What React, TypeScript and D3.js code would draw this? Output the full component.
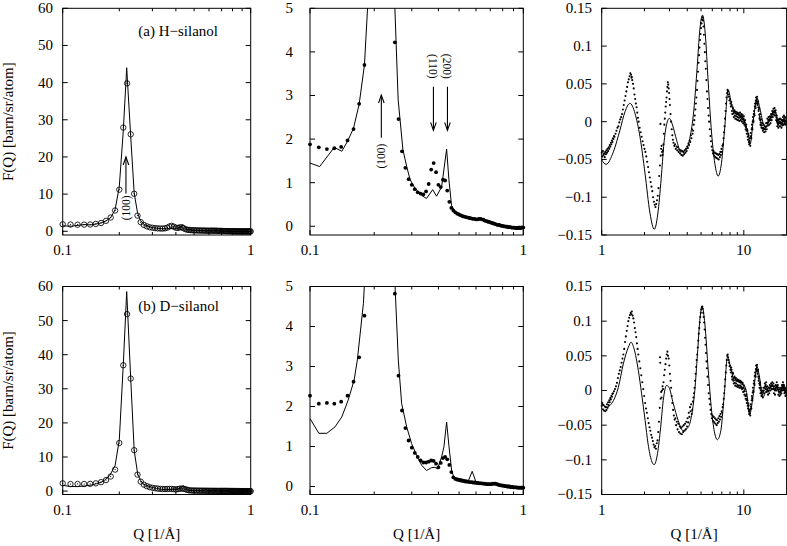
import React from 'react';
import * as d3 from 'd3';

// ---------------- DATA ----------------
const Q_LOW = [
  0.10, 0.11, 0.12, 0.13, 0.14, 0.15, 0.16, 0.17, 0.18, 0.19,
  0.20, 0.21, 0.22, 0.23, 0.24, 0.25, 0.26, 0.27, 0.28, 0.29,
  0.30, 0.31, 0.32, 0.33, 0.34, 0.35, 0.36, 0.37, 0.38, 0.39,
  0.40, 0.41, 0.42, 0.43, 0.44, 0.45, 0.46, 0.47, 0.48, 0.49,
  0.50, 0.51, 0.52, 0.53, 0.54, 0.55, 0.56, 0.57, 0.58, 0.59,
  0.60, 0.61, 0.62, 0.63, 0.64, 0.65, 0.66, 0.67, 0.68, 0.69,
  0.70, 0.71, 0.72, 0.73, 0.74, 0.75, 0.76, 0.77, 0.78, 0.79,
  0.80, 0.81, 0.82, 0.83, 0.84, 0.85, 0.86, 0.87, 0.88, 0.89,
  0.90, 0.91, 0.92, 0.93, 0.94, 0.95, 0.96, 0.97, 0.98, 0.99,
  1.00,
];

const H_LOW_EXP = [
  1.88, 1.81, 1.77, 1.79, 1.82, 1.97, 2.23, 2.81, 3.70, 5.6,
  11.2, 27.9, 39.8, 26.1, 10.1, 4.22, 2.46, 1.72, 1.34, 1.08,
  0.95, 0.85, 0.78, 0.75, 0.73, 0.80, 0.97, 1.30, 1.45, 1.24,
  0.95, 0.90, 1.07, 1.05, 0.82, 0.56, 0.42, 0.36, 0.32, 0.29,
  0.27, 0.25, 0.23, 0.22, 0.21, 0.20, 0.19, 0.18, 0.17, 0.17,
  0.16, 0.16, 0.17, 0.17, 0.16, 0.15, 0.13, 0.12, 0.11, 0.10,
  0.09, 0.08, 0.07, 0.06, 0.05, 0.04, 0.03, 0.03, 0.02, 0.01,
  0.01, 0.00, 0.00, -0.01, -0.01, -0.02, -0.02, -0.02, -0.03, -0.03,
  -0.03, -0.03, -0.04, -0.04, -0.04, -0.03, -0.04, -0.04, -0.03, -0.03,
  -0.03,
];

const D_LOW_EXP = [
  2.27, 2.07, 2.09, 2.07, 2.12, 2.27, 2.62, 3.23, 4.27, 6.3,
  14.1, 36.9, 51.9, 33.0, 12.0, 4.82, 2.77, 1.90, 1.46, 1.15,
  0.97, 0.84, 0.74, 0.65, 0.60, 0.60, 0.62, 0.65, 0.64, 0.57,
  0.48, 0.59, 0.71, 0.74, 0.68, 0.54, 0.36, 0.23, 0.19, 0.17,
  0.16, 0.15, 0.14, 0.13, 0.12, 0.12, 0.11, 0.11, 0.10, 0.10,
  0.09, 0.09, 0.08, 0.08, 0.08, 0.07, 0.07, 0.06, 0.06, 0.06,
  0.06, 0.06, 0.07, 0.07, 0.07, 0.06, 0.05, 0.04, 0.03, 0.03,
  0.02, 0.02, 0.01, 0.01, 0.00, 0.00, 0.00, -0.01, -0.01, -0.01,
  -0.02, -0.02, -0.02, -0.02, -0.03, -0.03, -0.03, -0.03, -0.03, -0.03,
  -0.03,
];

const H_LOW_SIM: [number, number][] = [
  [0.100, 1.45], [0.111, 1.37], [0.130, 1.81], [0.141, 1.72], [0.150, 1.95],
  [0.160, 2.25], [0.170, 2.80], [0.180, 3.70], [0.190, 5.8], [0.200, 12],
  [0.210, 27], [0.219, 44], [0.230, 25.5], [0.240, 10.3], [0.250, 5.0],
  [0.259, 2.9], [0.2726, 1.76], [0.284, 1.37], [0.2947, 1.07], [0.310, 0.88],
  [0.328, 0.74], [0.345, 0.66], [0.352, 0.64], [0.376, 0.84], [0.392, 0.69],
  [0.414, 0.90], [0.437, 1.77], [0.448, 1.07], [0.461, 0.47], [0.48, 0.34],
  [0.50, 0.27], [0.55, 0.20], [0.60, 0.16], [0.65, 0.14], [0.70, 0.09],
  [0.80, 0.01], [0.90, -0.03], [1.00, -0.04],
];

const D_LOW_SIM: [number, number][] = [
  [0.100, 1.70], [0.110, 1.33], [0.120, 1.33], [0.131, 1.49], [0.141, 1.74],
  [0.151, 2.16], [0.161, 2.66], [0.1667, 3.16], [0.178, 4.58], [0.190, 7.5],
  [0.200, 15], [0.210, 37], [0.219, 58.5], [0.230, 33], [0.240, 12],
  [0.2505, 5.0], [0.2594, 3.16], [0.269, 2.07], [0.284, 1.49], [0.2996, 1.07],
  [0.316, 0.78], [0.334, 0.53], [0.352, 0.40], [0.371, 0.47], [0.385, 0.48],
  [0.396, 0.44], [0.414, 0.74], [0.4245, 0.99], [0.437, 1.61], [0.4486, 0.99],
  [0.4613, 0.40], [0.4724, 0.23], [0.5533, 0.15], [0.576, 0.38], [0.5985, 0.13],
  [0.65, 0.09], [0.70, 0.06], [0.75, 0.06], [0.80, 0.03], [0.90, -0.01], [1.00, -0.03],
];

const H_HIGH_SIM: [number, number][] = [
  [1.00, -0.0507], [1.073, -0.0565], [1.208, -0.040], [1.345, -0.011], [1.458, 0.013],
  [1.581, 0.0243], [1.715, 0.011], [1.859, -0.020], [2.016, -0.068], [2.186, -0.121],
  [2.344, -0.1425], [2.50, -0.117], [2.64, -0.068], [2.74, -0.029], [2.86, -0.004],
  [2.99, 0.0044], [3.15, -0.0044], [3.36, -0.024], [3.61, -0.040], [3.89, -0.0375],
  [4.17, -0.022], [4.45, 0.0154], [4.70, 0.073], [4.90, 0.121], [5.12, 0.141],
  [5.35, 0.117], [5.62, 0.051], [5.93, -0.015], [6.25, -0.055], [6.60, -0.072],
  [6.96, -0.055], [7.35, -0.0066], [7.76, 0.042], [8.18, 0.024], [8.64, 0.011],
  [9.36, 0.009], [10.0, 0.002], [10.7, -0.015], [11.1, -0.029], [11.6, -0.002],
  [12.4, 0.031], [12.9, 0.020], [13.7, -0.002], [14.4, -0.007], [15.2, 0.004],
  [16.5, 0.015], [17.4, 0.002], [18.9, -0.004], [20.0, 0.000],
];

const D_HIGH_SIM: [number, number][] = [
  [1.00, -0.019], [1.08, -0.024], [1.21, -0.0144], [1.31, 0.0048], [1.42, 0.0385],
  [1.54, 0.0625], [1.61, 0.0697], [1.69, 0.060], [1.81, 0.029], [1.91, -0.0048],
  [2.02, -0.043], [2.12, -0.077], [2.24, -0.101], [2.34, -0.107], [2.47, -0.091],
  [2.60, -0.053], [2.71, -0.0144], [2.86, 0.0072], [2.97, 0.0048], [3.19, -0.019],
  [3.45, -0.043], [3.74, -0.058], [4.06, -0.053], [4.29, -0.036], [4.52, 0.000],
  [4.72, 0.053], [4.90, 0.101], [5.09, 0.121], [5.32, 0.096], [5.62, 0.029],
  [5.93, -0.029], [6.25, -0.0625], [6.51, -0.071], [6.89, -0.058], [7.26, -0.0096],
  [7.68, 0.048], [8.15, 0.029], [8.6, 0.0144], [9.6, 0.012], [10.4, 0.000],
  [11.0, -0.034], [11.6, -0.0096], [12.4, 0.034], [12.9, 0.019], [13.6, -0.010],
  [14.4, 0.000], [15.2, 0.005], [16.0, 0.002], [17.0, 0.004], [18.0, -0.002],
  [18.9, 0.0096], [20.0, -0.004],
];

const H_HIGH_EXP: [number, number][] = [
  [1.00, -0.041], [1.01, -0.046], [1.02, -0.039], [1.03, -0.044], [1.04, -0.042],
  [1.05, -0.047], [1.06, -0.040], [1.07, -0.043], [1.08, -0.038], [1.09, -0.041],
  [1.10, -0.036], [1.11, -0.039], [1.12, -0.034], [1.13, -0.036], [1.14, -0.031],
  [1.15, -0.033], [1.16, -0.028], [1.17, -0.030], [1.18, -0.025], [1.19, -0.027],
  [1.20, -0.022], [1.21, -0.023], [1.22, -0.019], [1.23, -0.020], [1.25, -0.016],
  [1.27, -0.012], [1.29, -0.008], [1.31, -0.006], [1.33, -0.001], [1.35, 0.003],
  [1.37, 0.006], [1.39, 0.010], [1.41, 0.016], [1.43, 0.022], [1.45, 0.028],
  [1.47, 0.034], [1.49, 0.040], [1.51, 0.046], [1.53, 0.052], [1.55, 0.056],
  [1.57, 0.060], [1.59, 0.064], [1.61, 0.062], [1.62, 0.058], [1.63, 0.059],
  [1.64, 0.055], [1.66, 0.050], [1.68, 0.044], [1.70, 0.036], [1.72, 0.030],
  [1.74, 0.024], [1.76, 0.019], [1.78, 0.012], [1.80, 0.005], [1.82, 0.000],
  [1.85, -0.008], [1.88, -0.014], [1.91, -0.020], [1.94, -0.026], [1.97, -0.031],
  [2.00, -0.036], [2.03, -0.040], [2.06, -0.046], [2.09, -0.053], [2.12, -0.060],
  [2.15, -0.067], [2.18, -0.074], [2.21, -0.080], [2.24, -0.086], [2.27, -0.092],
  [2.30, -0.100], [2.33, -0.106], [2.36, -0.110], [2.39, -0.113], [2.42, -0.109],
  [2.45, -0.104], [2.48, -0.098], [2.51, -0.088], [2.54, -0.072], [2.57, -0.058],
  [2.59, -0.003], [2.60, -0.045], [2.62, -0.036], [2.64, -0.032], [2.66, -0.040],
  [2.68, -0.044], [2.70, -0.038], [2.72, -0.030], [2.74, -0.016], [2.76, -0.004],
  [2.78, 0.004], [2.80, 0.012], [2.82, 0.020], [2.84, 0.026], [2.86, 0.032],
  [2.88, 0.040], [2.90, 0.046], [2.92, 0.052], [2.94, 0.049], [2.96, 0.044],
  [2.98, 0.038], [3.00, 0.030], [3.02, 0.022], [3.05, 0.010], [3.08, 0.000],
  [3.11, -0.010], [3.14, -0.018], [3.17, -0.024], [3.20, -0.028], [3.24, -0.032],
  [3.28, -0.030], [3.32, -0.036], [3.36, -0.033], [3.40, -0.038], [3.44, -0.034],
  [3.48, -0.040], [3.52, -0.037], [3.56, -0.042], [3.60, -0.038], [3.64, -0.044],
  [3.68, -0.039], [3.72, -0.045], [3.76, -0.040], [3.80, -0.043], [3.84, -0.038],
  [3.88, -0.041], [3.92, -0.036], [3.96, -0.039], [4.00, -0.033], [4.04, -0.035],
  [4.08, -0.029], [4.12, -0.031], [4.16, -0.025], [4.20, -0.027], [4.24, -0.018],
  [4.28, -0.022], [4.32, -0.010], [4.36, -0.016], [4.40, -0.012], [4.44, -0.004],
  [4.48, 0.002], [4.52, 0.008], [4.56, 0.016], [4.60, 0.024], [4.64, 0.032],
  [4.68, 0.042], [4.72, 0.054], [4.76, 0.066], [4.80, 0.078], [4.84, 0.088],
  [4.88, 0.098], [4.92, 0.108], [4.96, 0.116], [5.00, 0.124], [5.04, 0.130],
  [5.08, 0.135], [5.12, 0.138], [5.16, 0.134], [5.20, 0.126], [5.24, 0.115],
  [5.28, 0.103], [5.32, 0.092], [5.36, 0.080], [5.40, 0.070], [5.45, 0.055],
  [5.50, 0.040], [5.55, 0.030], [5.60, 0.018], [5.65, 0.008], [5.70, 0.000],
  [5.76, -0.010], [5.82, -0.019], [5.88, -0.026], [5.94, -0.033], [6.00, -0.038],
  [6.06, -0.042], [6.12, -0.039], [6.18, -0.045], [6.24, -0.041], [6.30, -0.047],
  [6.36, -0.042], [6.42, -0.048], [6.48, -0.043], [6.54, -0.049], [6.60, -0.044],
  [6.66, -0.050], [6.72, -0.043], [6.78, -0.047], [6.84, -0.040], [6.90, -0.044],
  [6.96, -0.036], [7.02, -0.040], [7.08, -0.032], [7.14, -0.030], [7.20, -0.022],
  [7.26, -0.014], [7.32, -0.006], [7.38, 0.004], [7.44, 0.014], [7.50, 0.024],
  [7.56, 0.032], [7.62, 0.038], [7.68, 0.042], [7.74, 0.040], [7.80, 0.036],
  [7.86, 0.033], [7.92, 0.028],
  [8.00, 0.030], [8.05, 0.024], [8.10, 0.020], [8.15, 0.026], [8.20, 0.022], [8.25, 0.014], [8.30, 0.010], [8.35, 0.019], [8.40, 0.017],
  [8.45, 0.011], [8.50, 0.006], [8.55, 0.013], [8.60, 0.015], [8.65, 0.008], [8.70, 0.004], [8.75, 0.011], [8.80, 0.013], [8.85, 0.007], [8.90, 0.003],
  [8.95, 0.010], [9.00, 0.012], [9.05, 0.006], [9.10, 0.002], [9.15, 0.009], [9.20, 0.011], [9.25, 0.005], [9.30, 0.001], [9.35, 0.008], [9.40, 0.012],
  [9.45, 0.006], [9.50, 0.002], [9.55, 0.008], [9.60, 0.010], [9.65, 0.004], [9.70, 0.000], [9.75, 0.006], [9.80, 0.009], [9.85, 0.003], [9.90, -0.002],
  [9.95, 0.004], [10.0, 0.007], [10.05, 0.001], [10.1, -0.004], [10.15, -0.001], [10.2, 0.002], [10.25, -0.006], [10.3, -0.010], [10.35, -0.007], [10.4, -0.004],
  [10.45, -0.012], [10.5, -0.016], [10.55, -0.010], [10.6, -0.012], [10.65, -0.020], [10.7, -0.024], [10.75, -0.016], [10.8, -0.018], [10.85, -0.027], [10.9, -0.030],
  [10.95, -0.026], [11.0, -0.022], [11.05, -0.029], [11.1, -0.032], [11.15, -0.020], [11.2, -0.015], [11.25, -0.019], [11.3, -0.022], [11.35, -0.010], [11.4, -0.004],
  [11.45, -0.008], [11.5, -0.010], [11.55, 0.000], [11.6, 0.006], [11.65, 0.002], [11.7, 0.000], [11.75, 0.010], [11.8, 0.014], [11.85, 0.010], [11.9, 0.008],
  [11.95, 0.020], [12.0, 0.024], [12.05, 0.020], [12.1, 0.018], [12.15, 0.028], [12.2, 0.032], [12.25, 0.027], [12.3, 0.024], [12.35, 0.030], [12.4, 0.033],
  [12.45, 0.026], [12.5, 0.022], [12.55, 0.024], [12.6, 0.027], [12.65, 0.019], [12.7, 0.014], [12.75, 0.016], [12.8, 0.018], [12.85, 0.009], [12.9, 0.004],
  [12.95, 0.006], [13.0, 0.010], [13.05, 0.002], [13.1, -0.004], [13.15, -0.001], [13.2, 0.003], [13.25, -0.005], [13.3, -0.008], [13.38, -0.005], [13.45, -0.002],
  [13.52, -0.009], [13.6, -0.012], [13.68, -0.008], [13.75, -0.004], [13.82, -0.010], [13.9, -0.014], [13.98, -0.009], [14.05, -0.006], [14.12, -0.010], [14.2, -0.013],
  [14.28, -0.007], [14.35, -0.002], [14.42, -0.006], [14.5, -0.010], [14.58, -0.002], [14.65, 0.004], [14.72, -0.001], [14.8, -0.005], [14.88, 0.002], [14.95, 0.006],
  [15.02, 0.001], [15.1, -0.004], [15.18, 0.003], [15.25, 0.007], [15.32, 0.002], [15.4, -0.002], [15.48, 0.005], [15.55, 0.010], [15.62, 0.006], [15.7, 0.002],
  [15.78, 0.009], [15.85, 0.014], [15.92, 0.010], [16.0, 0.006], [16.08, 0.012], [16.15, 0.017], [16.22, 0.013], [16.3, 0.009], [16.38, 0.014], [16.45, 0.018],
  [16.52, 0.012], [16.6, 0.008], [16.68, 0.012], [16.75, 0.015], [16.82, 0.008], [16.9, 0.002], [16.98, 0.005], [17.05, 0.008], [17.12, 0.000], [17.2, -0.006],
  [17.28, -0.002], [17.35, 0.002], [17.42, -0.004], [17.5, -0.008], [17.58, -0.002], [17.65, 0.003], [17.72, -0.002], [17.8, -0.006], [17.88, 0.000], [17.95, 0.004],
  [18.02, -0.002], [18.1, -0.006], [18.18, -0.001], [18.25, 0.003], [18.32, -0.003], [18.4, -0.008], [18.48, -0.003], [18.55, 0.002], [18.62, -0.002], [18.7, -0.005],
  [18.78, 0.001], [18.85, 0.006], [18.92, 0.001], [19.0, -0.004], [19.08, 0.003], [19.15, 0.008], [19.22, 0.003], [19.3, -0.002], [19.38, 0.002], [19.45, 0.006],
  [19.52, 0.001], [19.6, -0.004], [19.68, 0.001], [19.75, 0.005], [19.82, 0.000], [19.9, -0.003],
];

const D_HIGH_EXP: [number, number][] = [
  [1.00, -0.022], [1.01, -0.018], [1.02, -0.027], [1.03, -0.021], [1.04, -0.029],
  [1.05, -0.023], [1.06, -0.030], [1.07, -0.024], [1.08, -0.028], [1.09, -0.020],
  [1.10, -0.025], [1.11, -0.017], [1.12, -0.021], [1.13, -0.014], [1.14, -0.017],
  [1.15, -0.011], [1.16, -0.013], [1.17, -0.008], [1.18, -0.009], [1.19, -0.005],
  [1.20, -0.004], [1.22, -0.001], [1.24, 0.002], [1.26, 0.006], [1.28, 0.011],
  [1.30, 0.018], [1.32, 0.024], [1.34, 0.029], [1.36, 0.034], [1.38, 0.040],
  [1.40, 0.046], [1.42, 0.052], [1.44, 0.060], [1.46, 0.070], [1.48, 0.078],
  [1.50, 0.086], [1.52, 0.093], [1.54, 0.100], [1.56, 0.105], [1.58, 0.109],
  [1.60, 0.112], [1.62, 0.110], [1.63, 0.114], [1.65, 0.108], [1.67, 0.104],
  [1.69, 0.098], [1.71, 0.090], [1.73, 0.084], [1.75, 0.077], [1.77, 0.068],
  [1.79, 0.060], [1.81, 0.052], [1.84, 0.042], [1.87, 0.032], [1.90, 0.022],
  [1.93, 0.012], [1.96, 0.002], [1.99, -0.008], [2.02, -0.018], [2.05, -0.026],
  [2.08, -0.032], [2.11, -0.040], [2.14, -0.047], [2.17, -0.053], [2.20, -0.058],
  [2.23, -0.064], [2.26, -0.068], [2.29, -0.073], [2.32, -0.078], [2.35, -0.082],
  [2.38, -0.080], [2.41, -0.084], [2.44, -0.076], [2.47, -0.072], [2.50, -0.060],
  [2.53, -0.045], [2.56, -0.025], [2.57, 0.048], [2.58, 0.040], [2.60, -0.012],
  [2.62, -0.002], [2.64, -0.010], [2.66, 0.000], [2.68, 0.006], [2.70, 0.002],
  [2.72, 0.012], [2.75, 0.022], [2.78, 0.030], [2.81, 0.038], [2.84, 0.046],
  [2.87, 0.052], [2.90, 0.056], [2.93, 0.050], [2.96, 0.046], [2.99, 0.036],
  [3.02, 0.024], [3.05, 0.014], [3.08, 0.004], [3.11, -0.008], [3.14, -0.018],
  [3.18, -0.028], [3.22, -0.036], [3.26, -0.042], [3.30, -0.040], [3.34, -0.050],
  [3.38, -0.045], [3.42, -0.056], [3.46, -0.048], [3.50, -0.060], [3.54, -0.052],
  [3.58, -0.062], [3.62, -0.054], [3.66, -0.063], [3.70, -0.052], [3.74, -0.060],
  [3.78, -0.050], [3.82, -0.058], [3.86, -0.048], [3.90, -0.056], [3.94, -0.045],
  [3.98, -0.052], [4.02, -0.040], [4.06, -0.046], [4.10, -0.032], [4.14, -0.038],
  [4.18, -0.024], [4.22, -0.030], [4.26, -0.020], [4.30, -0.034], [4.34, -0.028],
  [4.38, -0.016], [4.42, -0.010], [4.46, -0.004], [4.50, 0.004], [4.54, 0.014],
  [4.58, 0.024], [4.62, 0.034], [4.66, 0.044], [4.70, 0.052], [4.74, 0.062],
  [4.78, 0.072], [4.82, 0.082], [4.86, 0.090], [4.90, 0.098], [4.94, 0.106],
  [4.98, 0.112], [5.02, 0.117], [5.06, 0.120], [5.10, 0.121], [5.14, 0.118],
  [5.18, 0.112], [5.22, 0.106], [5.26, 0.098], [5.30, 0.088], [5.34, 0.076],
  [5.38, 0.066], [5.42, 0.054], [5.46, 0.042], [5.50, 0.032], [5.55, 0.020],
  [5.60, 0.008], [5.66, -0.004], [5.72, -0.012], [5.78, -0.020], [5.84, -0.028],
  [5.90, -0.034], [5.96, -0.040], [6.02, -0.036], [6.08, -0.044], [6.14, -0.038],
  [6.20, -0.046], [6.26, -0.040], [6.32, -0.048], [6.38, -0.042], [6.44, -0.050],
  [6.50, -0.043], [6.56, -0.047], [6.62, -0.040], [6.68, -0.045], [6.74, -0.037],
  [6.80, -0.042], [6.86, -0.034], [6.92, -0.038], [6.98, -0.030], [7.04, -0.032],
  [7.10, -0.024], [7.16, -0.020], [7.22, -0.012], [7.28, -0.004], [7.34, 0.006],
  [7.40, 0.016], [7.46, 0.026], [7.52, 0.036], [7.58, 0.044], [7.64, 0.050],
  [7.70, 0.052], [7.76, 0.048], [7.82, 0.044], [7.88, 0.040], [7.94, 0.035],
  [8.00, 0.036], [8.05, 0.030], [8.10, 0.026], [8.15, 0.033], [8.20, 0.030], [8.25, 0.020], [8.30, 0.016], [8.35, 0.026], [8.40, 0.024],
  [8.45, 0.014], [8.50, 0.010], [8.55, 0.018], [8.60, 0.020], [8.65, 0.011], [8.70, 0.007], [8.75, 0.016], [8.80, 0.018], [8.85, 0.010], [8.90, 0.006],
  [8.95, 0.014], [9.00, 0.016], [9.05, 0.008], [9.10, 0.005], [9.15, 0.013], [9.20, 0.015], [9.25, 0.007], [9.30, 0.004], [9.35, 0.012], [9.40, 0.014],
  [9.45, 0.007], [9.50, 0.004], [9.55, 0.011], [9.60, 0.013], [9.65, 0.005], [9.70, 0.002], [9.75, 0.009], [9.80, 0.011], [9.85, 0.003], [9.90, -0.002],
  [9.95, 0.004], [10.0, 0.007], [10.05, -0.001], [10.1, -0.006], [10.15, -0.001], [10.2, 0.002], [10.25, -0.008], [10.3, -0.012], [10.35, -0.008], [10.4, -0.006],
  [10.45, -0.014], [10.5, -0.018], [10.55, -0.012], [10.6, -0.014], [10.65, -0.022], [10.7, -0.026], [10.75, -0.019], [10.8, -0.022], [10.85, -0.030], [10.9, -0.034],
  [10.95, -0.029], [11.0, -0.028], [11.05, -0.033], [11.1, -0.036], [11.15, -0.026], [11.2, -0.020], [11.25, -0.023], [11.3, -0.026], [11.35, -0.014], [11.4, -0.008],
  [11.45, -0.011], [11.5, -0.014], [11.55, -0.003], [11.6, 0.004], [11.65, 0.000], [11.7, -0.002], [11.75, 0.010], [11.8, 0.014], [11.85, 0.010], [11.9, 0.008],
  [11.95, 0.021], [12.0, 0.026], [12.05, 0.022], [12.1, 0.020], [12.15, 0.031], [12.2, 0.036], [12.25, 0.030], [12.3, 0.028], [12.35, 0.034], [12.4, 0.037],
  [12.45, 0.029], [12.5, 0.024], [12.55, 0.027], [12.6, 0.030], [12.65, 0.020], [12.7, 0.014], [12.75, 0.017], [12.8, 0.020], [12.85, 0.010], [12.9, 0.004],
  [12.95, 0.008], [13.0, 0.012], [13.05, 0.003], [13.1, -0.004], [13.15, 0.000], [13.2, 0.004], [13.25, -0.004], [13.3, -0.008], [13.38, -0.003], [13.45, 0.000],
  [13.52, -0.006], [13.6, -0.010], [13.68, -0.002], [13.75, 0.004], [13.82, 0.000], [13.9, -0.004], [13.98, 0.004], [14.05, 0.010], [14.12, 0.006], [14.2, 0.002],
  [14.28, 0.008], [14.35, 0.012], [14.42, 0.005], [14.5, -0.002], [14.58, 0.002], [14.65, 0.006], [14.72, 0.000], [14.8, -0.006], [14.88, -0.001], [14.95, 0.004],
  [15.02, 0.000], [15.1, -0.004], [15.18, 0.003], [15.25, 0.008], [15.32, 0.004], [15.4, 0.000], [15.48, 0.006], [15.55, 0.010], [15.62, 0.006], [15.7, 0.002],
  [15.78, 0.008], [15.85, 0.012], [15.92, 0.007], [16.0, 0.002], [16.08, 0.006], [16.15, 0.010], [16.22, 0.003], [16.3, -0.004], [16.38, 0.002], [16.45, 0.006],
  [16.52, 0.000], [16.6, -0.006], [16.68, 0.002], [16.75, 0.008], [16.82, 0.004], [16.9, 0.000], [16.98, 0.006], [17.05, 0.012], [17.12, 0.007], [17.2, 0.002],
  [17.28, 0.005], [17.35, 0.008], [17.42, 0.001], [17.5, -0.006], [17.58, -0.001], [17.65, 0.004], [17.72, -0.002], [17.8, -0.008], [17.88, -0.003], [17.95, 0.002],
  [18.02, -0.002], [18.1, -0.006], [18.18, -0.001], [18.25, 0.004], [18.32, 0.000], [18.4, -0.004], [18.48, 0.002], [18.55, 0.008], [18.62, 0.004], [18.7, 0.000],
  [18.78, 0.006], [18.85, 0.012], [18.92, 0.007], [19.0, 0.002], [19.08, 0.005], [19.15, 0.008], [19.22, 0.002], [19.3, -0.004], [19.38, 0.000], [19.45, 0.004],
  [19.52, -0.002], [19.6, -0.008], [19.68, -0.003], [19.75, 0.002], [19.82, -0.002], [19.9, -0.006],
];

const Y_TICKS_FULL = [0, 10, 20, 30, 40, 50, 60];
const Y_TICKS_ZOOM = [0, 1, 2, 3, 4, 5];
const Y_TICKS_HIGH = [-0.15, -0.1, -0.05, 0, 0.05, 0.1, 0.15];
const Y_LABELS_HIGH = ['\u22120.15', '\u22120.1', '\u22120.05', '0', '0.05', '0.1', '0.15'];
const X_MAJOR_LOW = [0.1, 1];
const X_MAJOR_LOW_LABELS = ['0.1', '1'];
const X_MINOR_LOW = [0.2, 0.3, 0.4, 0.5, 0.6, 0.7, 0.8, 0.9];
const X_MAJOR_HIGH = [1, 10];
const X_MAJOR_HIGH_LABELS = ['1', '10'];
const X_MINOR_HIGH = [2, 3, 4, 5, 6, 7, 8, 9];
const PANEL_TITLES = ['(a) H\u2212silanol', '(b) D\u2212silanol'];
const Y_TITLE = 'F(Q) [barn/sr/atom]';
const X_TITLE = 'Q [1/\u00C5]';
// arrows: [Q, F start, F end (head)], labels: [text, Q, F]
const ARROWS_A: [number, number, number][] = [[0.217, 10.2, 20]];
const ARROWS_B: [number, number, number][] = [[0.216, 2.03, 3.01], [0.379, 3.2, 2.2], [0.441, 3.2, 2.2]];
const LABELS_A: [string, number, number][] = [['(100)', 0.2158, 6.3]];
const LABELS_B: [string, number, number][] = [['(100)', 0.2146, 1.61], ['(110)', 0.379, 3.67], ['(200)', 0.441, 3.67]];

// ---------------- LAYOUT ----------------
const FONT = "'Liberation Serif', 'DejaVu Serif', 'Times New Roman', serif";
const COLS = [
  { left: 62.7, right: 250.7, labelGap: 9.7 },
  { left: 310, right: 523.3, labelGap: 17 },
  { left: 601.7, right: 786.6, labelGap: 9.7 },
];
const ROWS = [
  { top: 8.3, bottom: 235 },
  { top: 286.5, bottom: 494.5 },
];

type Pt = [number, number];

interface PanelProps {
  id: string;
  col: number;
  row: number;
  xDomain: [number, number];
  yDomain: [number, number];
  yTicks: number[];
  yLabels: string[];
  xMajor: number[];
  xMajorLabels: string[];
  xMinor: number[];
  sim: Pt[];
  exp: Pt[];
  marker: 'circle' | 'dot' | 'tiny';
  smooth?: boolean;
  arrows?: [number, number, number][];
  labels?: [string, number, number][];
  title?: string;
  xTitle?: boolean;
}

function Panel(p: PanelProps) {
  const { left, right, labelGap } = COLS[p.col];
  const { top, bottom } = ROWS[p.row];
  const x = d3.scaleLog().domain(p.xDomain).range([left, right]);
  const y = d3.scaleLinear().domain(p.yDomain).range([bottom, top]);
  const line = d3
    .line<Pt>()
    .x((d) => x(d[0]))
    .y((d) => y(d[1]))
    .curve(p.smooth ? d3.curveMonotoneX : d3.curveLinear);
  const pts = p.exp.filter(
    (d) => d[1] >= p.yDomain[0] && d[1] <= p.yDomain[1] && d[0] >= p.xDomain[0] && d[0] <= p.xDomain[1]
  );
  const majorLen = 5;
  const minorLen = 3;
  const fs = 15;
  return (
    <g>
      <defs>
        <clipPath id={p.id}>
          <rect x={left} y={top} width={right - left} height={bottom - top} />
        </clipPath>
      </defs>
      <path d={line(p.sim) || ''} fill="none" stroke="#000" strokeWidth={1} clipPath={`url(#${p.id})`} />
      <g>
        {pts.map((d, i) => {
          const cx = x(d[0]);
          const cy = y(d[1]);
          if (p.marker === 'circle')
            return (
              <g key={i}>
                <circle cx={cx} cy={cy} r={2.7} fill="none" stroke="#000" strokeWidth={0.85} />
                <circle cx={cx} cy={cy} r={0.6} fill="#000" />
              </g>
            );
          if (p.marker === 'dot') return <circle key={i} cx={cx} cy={cy} r={1.9} fill="#000" />;
          return <circle key={i} cx={cx} cy={cy} r={1.05} fill="#000" />;
        })}
      </g>
      {(p.arrows || []).map((a, i) => {
        const ax = x(a[0]);
        const y0 = y(a[1]);
        const y1 = y(a[2]);
        const dir = y1 < y0 ? 1 : -1;
        return (
          <g key={'a' + i} stroke="#000" strokeWidth={1.1} fill="none">
            <line x1={ax} y1={y0} x2={ax} y2={y1} />
            <polyline points={`${ax - 2.8},${y1 + dir * 8} ${ax},${y1} ${ax + 2.8},${y1 + dir * 8}`} />
          </g>
        );
      })}
      {(p.labels || []).map((l, i) => {
        const lx = x(l[1]);
        const ly = y(l[2]);
        const up = i === 0;
        return (
          <text
            key={'l' + i}
            transform={`translate(${lx},${ly}) rotate(${up ? -90 : 90})`}
            textAnchor="middle"
            dy="0.35em"
            fontSize={11.5}
            fontFamily={FONT}
          >
            {l[0]}
          </text>
        );
      })}
      <rect x={left} y={top} width={right - left} height={bottom - top} fill="none" stroke="#000" strokeWidth={1} />
      {p.yTicks.map((t, i) => (
        <g key={'y' + i}>
          <line x1={left} x2={left + majorLen} y1={y(t)} y2={y(t)} stroke="#000" strokeWidth={1} />
          <line x1={right} x2={right - majorLen} y1={y(t)} y2={y(t)} stroke="#000" strokeWidth={1} />
          <text x={left - labelGap} y={y(t)} dy="0.33em" textAnchor="end" fontSize={fs} fontFamily={FONT}>
            {p.yLabels[i]}
          </text>
        </g>
      ))}
      {p.xMajor.map((t, i) => (
        <g key={'x' + i}>
          <line x1={x(t)} x2={x(t)} y1={bottom} y2={bottom - majorLen} stroke="#000" strokeWidth={1} />
          <line x1={x(t)} x2={x(t)} y1={top} y2={top + majorLen} stroke="#000" strokeWidth={1} />
          <text x={x(t)} y={bottom + 20} textAnchor="middle" fontSize={fs} fontFamily={FONT}>
            {p.xMajorLabels[i]}
          </text>
        </g>
      ))}
      {p.xMinor.map((t, i) => (
        <g key={'m' + i}>
          <line x1={x(t)} x2={x(t)} y1={bottom} y2={bottom - minorLen} stroke="#000" strokeWidth={1} />
          <line x1={x(t)} x2={x(t)} y1={top} y2={top + minorLen} stroke="#000" strokeWidth={1} />
        </g>
      ))}
      {p.title && (
        <text x={138.3} y={top + (p.row === 0 ? 28 : 24)} fontSize={fs} fontFamily={FONT}>
          {p.title}
        </text>
      )}
      {p.xTitle && (
        <text x={(left + right) / 2} y={538.5} textAnchor="middle" fontSize={fs} fontFamily={FONT}>
          {X_TITLE}
        </text>
      )}
    </g>
  );
}

export default function App() {
  const hLow: Pt[] = Q_LOW.map((q, i) => [q, H_LOW_EXP[i]]);
  const dLow: Pt[] = Q_LOW.map((q, i) => [q, D_LOW_EXP[i]]);
  const yFullLabels = Y_TICKS_FULL.map(String);
  const yZoomLabels = Y_TICKS_ZOOM.map(String);
  return (
    <div style={{ position: 'absolute', left: 0, top: 0 }}>
      <svg width={787} height={546} style={{ display: 'block', background: '#fff' }}>
        <rect x={0} y={0} width={787} height={546} fill="#fff" />
        <Panel id="c1" col={0} row={0} xDomain={[0.1, 1]} yDomain={[-1, 60]} yTicks={Y_TICKS_FULL}
          yLabels={yFullLabels} xMajor={X_MAJOR_LOW} xMajorLabels={X_MAJOR_LOW_LABELS} xMinor={X_MINOR_LOW}
          sim={H_LOW_SIM} exp={hLow} marker="circle" arrows={ARROWS_A} labels={LABELS_A} title={PANEL_TITLES[0]} />
        <Panel id="c2" col={1} row={0} xDomain={[0.1, 1]} yDomain={[-0.2, 5]} yTicks={Y_TICKS_ZOOM}
          yLabels={yZoomLabels} xMajor={X_MAJOR_LOW} xMajorLabels={X_MAJOR_LOW_LABELS} xMinor={X_MINOR_LOW}
          sim={H_LOW_SIM} exp={hLow} marker="dot" arrows={ARROWS_B} labels={LABELS_B} />
        <Panel id="c3" col={2} row={0} xDomain={[1, 20]} yDomain={[-0.15, 0.15]} yTicks={Y_TICKS_HIGH}
          yLabels={Y_LABELS_HIGH} xMajor={X_MAJOR_HIGH} xMajorLabels={X_MAJOR_HIGH_LABELS} xMinor={X_MINOR_HIGH}
          sim={H_HIGH_SIM} exp={H_HIGH_EXP} marker="tiny" smooth />
        <Panel id="c4" col={0} row={1} xDomain={[0.1, 1]} yDomain={[-1, 60]} yTicks={Y_TICKS_FULL}
          yLabels={yFullLabels} xMajor={X_MAJOR_LOW} xMajorLabels={X_MAJOR_LOW_LABELS} xMinor={X_MINOR_LOW}
          sim={D_LOW_SIM} exp={dLow} marker="circle" title={PANEL_TITLES[1]} xTitle />
        <Panel id="c5" col={1} row={1} xDomain={[0.1, 1]} yDomain={[-0.2, 5]} yTicks={Y_TICKS_ZOOM}
          yLabels={yZoomLabels} xMajor={X_MAJOR_LOW} xMajorLabels={X_MAJOR_LOW_LABELS} xMinor={X_MINOR_LOW}
          sim={D_LOW_SIM} exp={dLow} marker="dot" xTitle />
        <Panel id="c6" col={2} row={1} xDomain={[1, 20]} yDomain={[-0.15, 0.15]} yTicks={Y_TICKS_HIGH}
          yLabels={Y_LABELS_HIGH} xMajor={X_MAJOR_HIGH} xMajorLabels={X_MAJOR_HIGH_LABELS} xMinor={X_MINOR_HIGH}
          sim={D_HIGH_SIM} exp={D_HIGH_EXP} marker="tiny" smooth xTitle />
        {ROWS.map((r, i) => (
          <text key={i} transform={`translate(13,${(r.top + r.bottom) / 2}) rotate(-90)`} textAnchor="middle"
            fontSize={15} fontFamily={FONT}>
            {Y_TITLE}
          </text>
        ))}
      </svg>
    </div>
  );
}
